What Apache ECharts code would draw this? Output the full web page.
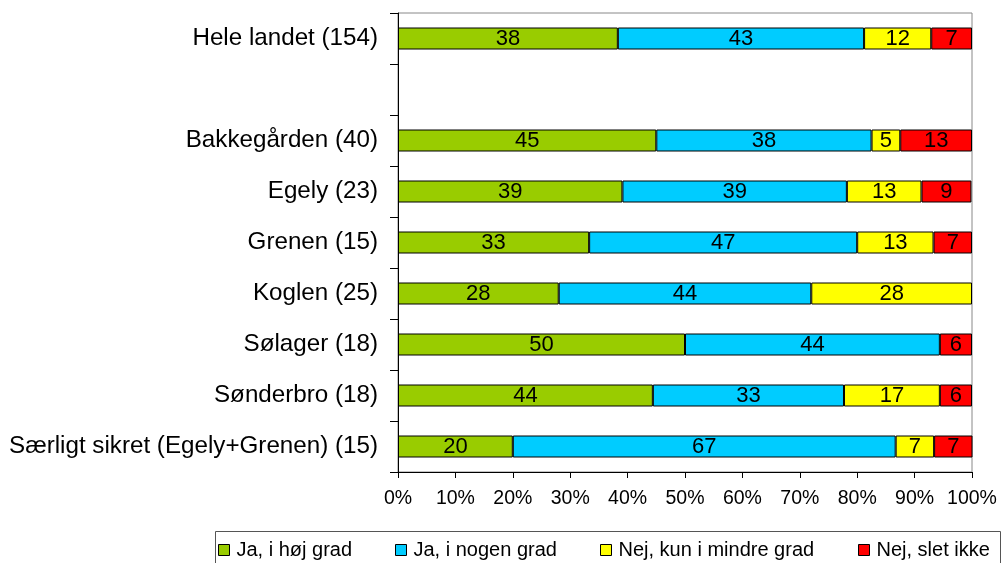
<!DOCTYPE html>
<html>
<head>
<meta charset="utf-8">
<script src="https://cdn.jsdelivr.net/npm/echarts@6/dist/echarts.min.js"></script>
<style>html,body{margin:0;padding:0;background:#fff}#c{width:1007px;height:563px}</style>
</head>
<body>
<div id="c"></div>
<script>
const categories = ['Hele landet (154)', '', 'Bakkegården (40)', 'Egely (23)', 'Grenen (15)', 'Koglen (25)', 'Sølager (18)', 'Sønderbro (18)', 'Særligt sikret (Egely+Grenen) (15)'];
const seriesNames = ['Ja, i høj grad', 'Ja, i nogen grad', 'Nej, kun i mindre grad', 'Nej, slet ikke'];
const jaHoej   = [38.3, null, 45,   39.1, 33.3, 28, 50,   44.4, 20];
const jaNogen  = [42.9, null, 37.5, 39.1, 46.7, 44, 44.4, 33.3, 66.7];
const nejMindre= [11.7, null, 5,    13.0, 13.3, 28, 0,    16.7, 6.7];
const nejSlet  = [7.1,  null, 12.5, 8.7,  6.7,  0,  5.6,  5.6,  6.7];
const xTicks = [0, 10, 20, 30, 40, 50, 60, 70, 80, 90, 100];
const colors = ['#99CC00', '#00CCFF', '#FFFF00', '#FF0000'];
const values = [jaHoej, jaNogen, nejMindre, nejSlet];

const FONT = 'Liberation Sans, Arial, sans-serif';
const chart = echarts.init(document.getElementById('c'));
const legendLefts = [218, 395, 600, 858];
chart.setOption({
  animation: false,
  grid: {left: 398, right: 35, top: 13, bottom: 91, show: true, borderColor: '#888', borderWidth: 1},
  xAxis: {
    type: 'value', min: xTicks[0], max: xTicks[xTicks.length - 1], interval: 10,
    axisLine: {show: true, lineStyle: {color: '#000'}},
    axisTick: {show: true, length: 6, lineStyle: {color: '#000'}},
    splitLine: {show: false},
    axisLabel: {formatter: '{value}%', color: '#000', fontSize: 19.5, fontFamily: FONT, margin: 17}
  },
  yAxis: {
    type: 'category', data: categories, inverse: true,
    axisLine: {show: true, lineStyle: {color: '#000'}},
    axisTick: {show: true, length: 8, lineStyle: {color: '#000'}},
    axisLabel: {color: '#000', fontSize: 24.2, fontFamily: FONT, margin: 20, padding: [4, 0, 0, 0]}
  },
  legend: seriesNames.map((n, i) => ({
    data: [n], left: legendLefts[i], top: 540, icon: 'rect', itemWidth: 11, itemHeight: 11,
    itemGap: 0, padding: 0, selectedMode: false,
    itemStyle: {borderColor: '#000', borderWidth: 1},
    textStyle: {color: '#000', fontSize: 20, fontFamily: FONT, padding: [0, 0, 0, 2]}
  })),
  graphic: [{type: 'rect', shape: {x: 215.5, y: 531.5, width: 785, height: 40}, style: {fill: 'none', stroke: '#555', lineWidth: 1}}],
  series: seriesNames.map((n, i) => ({
    name: n, type: 'bar', stack: 'all', barWidth: 22,
    data: values[i].map(v => (v === 0 ? null : v)),
    itemStyle: {color: colors[i], borderColor: '#000', borderWidth: 1},
    label: {show: true, position: 'inside', color: '#000', fontSize: 22, fontFamily: FONT, padding: [3, 0, 0, 0],
      formatter: p => (p.value == null ? '' : String(Math.round(p.value)))}
  }))
});
</script>
</body>
</html>
